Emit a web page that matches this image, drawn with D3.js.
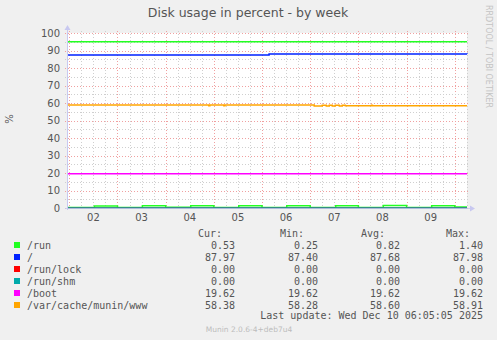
<!DOCTYPE html>
<html>
<head>
<meta charset="utf-8">
<script src="https://cdn.jsdelivr.net/npm/d3@7"></script>
<style>
	body { margin: 0; background: #f0f0f0; }
	svg { display: block; }
</style>
</head>
<body>
<div id="chart"></div>
<script>
var series_names = ['/run', '/', '/run/lock', '/run/shm', '/boot', '/var/cache/munin/www'];
var series_colors = ['#22ff22', '#0022ff', '#ff0000', '#00aaaa', '#ff00ff', '#ffa500'];
var col_cur = ['0.53', '87.97', '0.00', '0.00', '19.62', '58.38'];
var col_min = ['0.25', '87.40', '0.00', '0.00', '19.62', '58.28'];
var col_avg = ['0.82', '87.68', '0.00', '0.00', '19.62', '58.60'];
var col_max = ['1.40', '87.98', '0.00', '0.00', '19.62', '58.91'];

// hours since Tue Dec 02 00:00, values are step changes
var hours_run = [-1.15, 12.5, 24, 36.4, 48, 60.5, 72, 84.4, 96, 108.3, 120, 132.7, 144, 156.4, 168, 180.5, 192, 198.1];
var values_run = [0.30, 1.20, 0.35, 1.25, 0.40, 1.30, 0.30, 1.25, 0.35, 1.30, 0.25, 1.35, 0.30, 1.40, 0.35, 1.30, 0.53, 0.53];
var hours_root = [-1.15, 99.5, 198.1];
var values_root = [87.40, 87.98, 87.97];
var hours_lock = [-1.15, 198.1];
var values_lock = [0, 0];
var hours_shm = [-1.15, 198.1];
var values_shm = [0, 0];
var hours_boot = [-1.15, 198.1];
var values_boot = [19.62, 19.62];
var hours_www = [-1.15, 69.5, 70, 77, 77.5, 122, 126, 128, 129.5, 131, 132.5, 134.5, 136, 137.5, 150.5, 151, 198.1];
var values_www = [58.88, 58.40, 58.88, 58.40, 58.88, 58.35, 58.75, 58.35, 58.75, 58.35, 58.75, 58.35, 58.75, 58.36, 58.72, 58.38, 58.38];
var hrule_values = [95];

var y_ticks = [0, 10, 20, 30, 40, 50, 60, 70, 80, 90, 100];
var day_labels = ['02', '03', '04', '05', '06', '07', '08', '09'];

var fmt = {
	left: 67, right: 467, top: 33, bottom: 208,
	clr_bkg: '#f0f0f0',
	clr_grid: '#cfcfcf',
	clr_mgrid: '#f0a0a0',
	clr_axis: '#c8c8f0',
	clr_text: '#555555',
	sans: 'DejaVu Sans',
	mono: 'DejaVu Sans Mono'
};

var base = new Date(2025, 11, 2, 0, 0, 0);
function hourDate(h) { return new Date(base.getTime() + h * 3600000); }

var svg = d3.select('#chart').append('svg')
	.attr('width', 497).attr('height', 340)
	.style('background-color', fmt.clr_bkg);

var xScale = d3.scaleTime()
	.domain([hourDate(-1.15), hourDate(198.1)])
	.range([fmt.left, fmt.right]);
var yScale = d3.scaleLinear()
	.domain([0, 100])
	.range([fmt.bottom, fmt.top]);

// plot canvas
svg.append('rect')
	.attr('x', fmt.left).attr('y', fmt.top)
	.attr('width', fmt.right - fmt.left).attr('height', fmt.bottom - fmt.top)
	.attr('fill', '#ffffff');

// grid lines
var g_grid = svg.append('g').attr('shape-rendering', 'crispEdges');
var minorX = d3.timeHour.every(6).range(xScale.domain()[0], xScale.domain()[1]);
minorX.forEach(function(d) {
	var major = d.getHours() === 0;
	g_grid.append('line')
		.attr('x1', Math.round(xScale(d)) + 0.5).attr('x2', Math.round(xScale(d)) + 0.5)
		.attr('y1', fmt.top - 2).attr('y2', fmt.bottom + 3)
		.attr('stroke', major ? fmt.clr_mgrid : fmt.clr_grid)
		.attr('stroke-dasharray', '1,2');
});
d3.range(0, 101, 5).forEach(function(v) {
	var major = v % 10 === 0;
	g_grid.append('line')
		.attr('x1', fmt.left - 2).attr('x2', fmt.right + 2)
		.attr('y1', Math.round(yScale(v)) + 0.5).attr('y2', Math.round(yScale(v)) + 0.5)
		.attr('stroke', major ? fmt.clr_mgrid : fmt.clr_grid)
		.attr('stroke-dasharray', '1,2');
});

// y tick labels
svg.append('g').selectAll('text').data(y_ticks).enter().append('text')
	.attr('x', 60).attr('y', function(d) { return yScale(d) + 3.5; })
	.attr('text-anchor', 'end')
	.style('font-family', fmt.sans).style('font-size', '10px')
	.attr('fill', fmt.clr_text)
	.text(function(d) { return d; });

// x labels at noon
svg.append('g').selectAll('text').data(day_labels).enter().append('text')
	.attr('x', function(d, i) { return xScale(hourDate(i * 24 + 12)); })
	.attr('y', 221)
	.attr('text-anchor', 'middle')
	.style('font-family', fmt.sans).style('font-size', '10px')
	.attr('fill', fmt.clr_text)
	.text(function(d) { return d; });

// series
var line = d3.line()
	.x(function(el) { return xScale(hourDate(el[0])); })
	.y(function(el) { return yScale(el[1]); })
	.curve(d3.curveStepAfter);

var all_hours = [hours_run, hours_root, hours_lock, hours_shm, hours_boot, hours_www];
var all_values = [values_run, values_root, values_lock, values_shm, values_boot, values_www];

svg.append('g').selectAll('line').data(hrule_values).enter().append('line')
	.attr('x1', fmt.left).attr('x2', fmt.right)
	.attr('y1', function(d) { return yScale(d); }).attr('y2', function(d) { return yScale(d); })
	.attr('stroke', series_colors[0]).attr('stroke-width', 1.5);

all_hours.forEach(function(hrs, i) {
	var pts = hrs.map(function(h, j) { return [h, all_values[i][j]]; });
	svg.append('path')
		.datum(pts)
		.attr('d', line)
		.style('stroke', series_colors[i])
		.style('stroke-width', 1.5)
		.style('fill', 'none');
});

// axes with arrows
var g_axis = svg.append('g');
g_axis.append('line')
	.attr('x1', fmt.left + 0.5).attr('x2', fmt.left + 0.5)
	.attr('y1', fmt.bottom + 2).attr('y2', fmt.top - 4)
	.attr('stroke', fmt.clr_axis).attr('stroke-width', 1);
g_axis.append('path')
	.attr('d', `M${fmt.left - 2.5},${fmt.top - 3} L${fmt.left + 0.5},${fmt.top - 8} L${fmt.left + 3.5},${fmt.top - 3} Z`)
	.attr('fill', fmt.clr_axis);
g_axis.append('line')
	.attr('x1', fmt.left - 2).attr('x2', fmt.right + 4)
	.attr('y1', fmt.bottom + 0.5).attr('y2', fmt.bottom + 0.5)
	.attr('stroke', fmt.clr_axis).attr('stroke-opacity', 0.8).attr('stroke-width', 1);
g_axis.append('path')
	.attr('d', `M${fmt.right + 3},${fmt.bottom - 2.5} L${fmt.right + 8},${fmt.bottom + 0.5} L${fmt.right + 3},${fmt.bottom + 3.5} Z`)
	.attr('fill', fmt.clr_axis);

// titles
svg.append('text')
	.attr('x', 248).attr('y', 17)
	.attr('text-anchor', 'middle')
	.style('font-family', fmt.sans).style('font-size', '12.5px')
	.attr('fill', '#555555')
	.text('Disk usage in percent - by week');
svg.append('text')
	.attr('transform', 'translate(13,119) rotate(-90)')
	.attr('text-anchor', 'middle')
	.style('font-family', fmt.sans).style('font-size', '10px')
	.attr('fill', fmt.clr_text)
	.text('%');
svg.append('text')
	.attr('transform', 'translate(486,5) rotate(90)')
	.attr('text-anchor', 'start')
	.style('font-family', fmt.sans).style('font-size', '8px')
	.attr('fill', '#c4c4c4')
	.text('RRDTOOL / TOBI OETIKER');

// legend table
var g_leg = svg.append('g')
	.style('font-family', fmt.mono).style('font-size', '10px')
	.attr('fill', fmt.clr_text)
	.style('white-space', 'pre');
var headers = [['Cur:', 222], ['Min:', 304], ['Avg:', 385], ['Max:', 470]];
headers.forEach(function(h) {
	g_leg.append('text').attr('x', h[1]).attr('y', 237).attr('text-anchor', 'end').text(h[0]);
});
var cols = [[col_cur, 235], [col_min, 318], [col_avg, 400], [col_max, 483]];
series_names.forEach(function(name, i) {
	var y = 249 + i * 12;
	g_leg.append('rect')
		.attr('x', 14).attr('y', y - 7).attr('width', 6).attr('height', 6)
		.attr('fill', series_colors[i]);
	g_leg.append('text').attr('x', 27).attr('y', y).text(name);
	cols.forEach(function(c) {
		g_leg.append('text').attr('x', c[1]).attr('y', y).attr('text-anchor', 'end').text(c[0][i]);
	});
});
g_leg.append('text').attr('x', 483).attr('y', 319).attr('text-anchor', 'end')
	.text('Last update: Wed Dec 10 06:05:05 2025');

svg.append('text')
	.attr('x', 249).attr('y', 332)
	.attr('text-anchor', 'middle')
	.style('font-family', fmt.sans).style('font-size', '7.5px')
	.attr('fill', '#bdbdbd')
	.text('Munin 2.0.6-4+deb7u4');
</script>
</body>
</html>
